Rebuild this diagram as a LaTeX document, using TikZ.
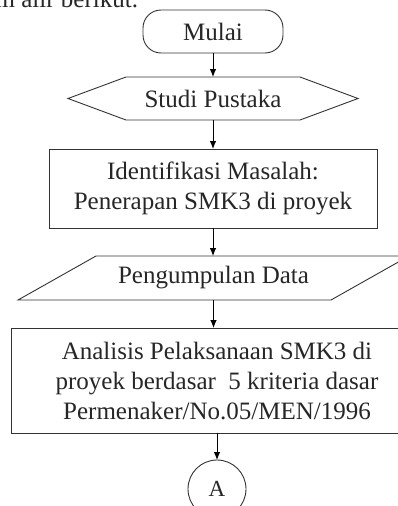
\documentclass[tikz,border=0pt]{standalone}
\usepackage{fontspec}
\setmainfont{Liberation Serif}
\usetikzlibrary{arrows.meta}
\begin{document}
\begin{tikzpicture}[x=1pt,y=-1pt,
  every node/.style={font=\fontsize{25}{30}\selectfont, inner sep=0pt, outer sep=0pt, text=black!85},
  box/.style={draw=black!80, line width=0.9pt, align=center},
  plain/.style={align=center},
  outline/.style={draw=black!80, line width=0.9pt},
  arr/.style={-{Latex[length=8pt,width=6.5pt]}, line width=0.9pt}]
\useasboundingbox (0,0) rectangle (398,506);
\node[anchor=base east] (intro) at (138,7) {diagram alir berikut.};
\node[box, rounded corners=18pt, minimum width=140pt, minimum height=43pt] (mulai) at (213,31.5) {Mulai};
\node[plain, minimum width=290pt, minimum height=43pt] (studi) at (213,98.5) {Studi Pustaka};
\draw[outline] ([xshift=58pt]studi.north west) -- ([xshift=-58pt]studi.north east) -- (studi.east)
  -- ([xshift=-58pt]studi.south east) -- ([xshift=58pt]studi.south west) -- (studi.west) -- cycle;
\node[box, minimum width=328pt, minimum height=79pt] (ident) at (213,188.5) {Identifikasi Masalah:\\Penerapan SMK3 di proyek};
\node[plain, minimum width=391pt, minimum height=44pt] (peng) at (213.5,278) {Pengumpulan Data};
\draw[outline] ([xshift=78pt]peng.north west) -- (peng.north east) -- ([xshift=-78pt]peng.south east) -- (peng.south west) -- cycle;
\node[box, minimum width=412pt, minimum height=105pt] (anal) at (217,380.5) {Analisis Pelaksanaan SMK3 di\\proyek berdasar\ \ 5 kriteria dasar\\Permenaker/No.05/MEN/1996};
\node[draw=black!80, line width=0.9pt, circle, minimum size=58pt, font=\fontsize{23}{27}\selectfont] (A) at (217,489) {A};
\draw[arr] (mulai) -- (studi);
\draw[arr] (studi) -- (ident);
\draw[arr] (ident.south) -- (ident.south |- peng.north);
\draw[arr] (peng.south) -- (peng.south |- anal.north);
\draw[arr] (anal) -- (A);
\end{tikzpicture}
\end{document}
